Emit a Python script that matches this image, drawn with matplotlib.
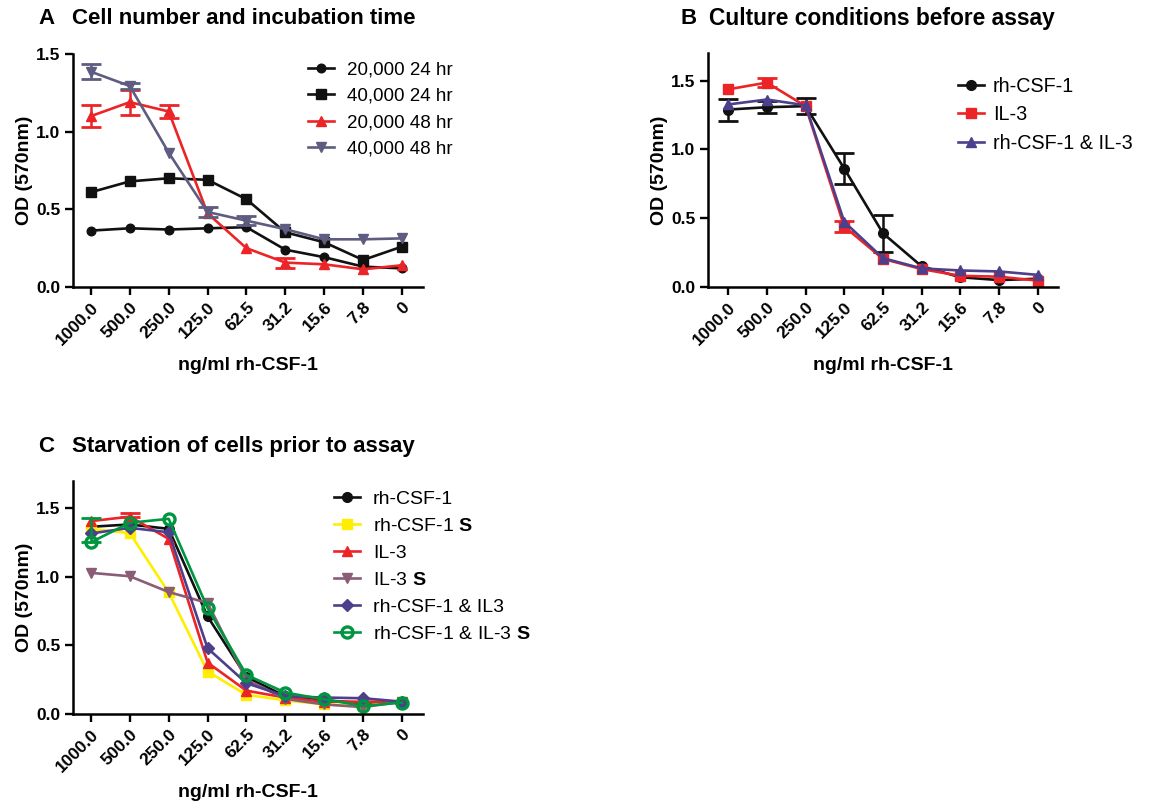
import numpy as np
import matplotlib
matplotlib.use("Agg")
import matplotlib.pyplot as plt

plt.rcParams['font.family'] = ['Liberation Sans', 'DejaVu Sans']
plt.rcParams['mathtext.fontset'] = 'custom'
plt.rcParams['mathtext.rm'] = 'Liberation Sans'
plt.rcParams['mathtext.bf'] = 'Liberation Sans:bold'

# ---------------- data ----------------
doses = ["1000.0", "500.0", "250.0", "125.0", "62.5", "31.2", "15.6", "7.8", "0"]

# Panel A
a_labels = ["20,000 24 hr", "40,000 24 hr", "20,000 48 hr", "40,000 48 hr"]
a_20k_24 = [0.363, 0.378, 0.370, 0.378, 0.385, 0.240, 0.192, 0.131, 0.120]
a_40k_24 = [0.610, 0.680, 0.700, 0.690, 0.565, 0.352, 0.288, 0.174, 0.260]
a_20k_48 = [1.100, 1.190, 1.130, 0.474, 0.250, 0.157, 0.146, 0.114, 0.140]
a_40k_48 = [1.386, 1.294, 0.865, 0.483, 0.427, 0.372, 0.307, 0.307, 0.313]
a_20k_48_err = [0.072, 0.080, 0.040, 0.0, 0.0, 0.032, 0.0, 0.0, 0.0]
a_40k_48_err = [0.050, 0.020, 0.0, 0.030, 0.030, 0.0, 0.0, 0.0, 0.0]

# Panel B
b_labels = ["rh-CSF-1", "IL-3", "rh-CSF-1 & IL-3"]
b_csf = [1.289, 1.306, 1.314, 0.860, 0.390, 0.150, 0.071, 0.050, 0.060]
b_il3 = [1.436, 1.485, 1.314, 0.439, 0.204, 0.130, 0.081, 0.075, 0.046]
b_both = [1.326, 1.362, 1.320, 0.473, 0.210, 0.135, 0.120, 0.113, 0.088]
b_csf_err = [0.080, 0.045, 0.058, 0.110, 0.135, 0.0, 0.0, 0.0, 0.0]
b_il3_err = [0.0, 0.030, 0.0, 0.040, 0.0, 0.0, 0.0, 0.0, 0.0]

# Panel C
c_labels = ["rh-CSF-1", "rh-CSF-1 $\\mathbf{S}$", "IL-3", "IL-3 $\\mathbf{S}$",
            "rh-CSF-1 & IL3", "rh-CSF-1 & IL-3 $\\mathbf{S}$"]
c_csf = [1.366, 1.383, 1.351, 0.712, 0.270, 0.130, 0.100, 0.080, 0.090]
c_csf_s = [1.350, 1.320, 0.887, 0.310, 0.140, 0.100, 0.070, 0.060, 0.090]
c_il3 = [1.407, 1.440, 1.278, 0.375, 0.170, 0.120, 0.090, 0.090, 0.090]
c_il3_s = [1.030, 1.005, 0.890, 0.810, 0.250, 0.110, 0.070, 0.050, 0.090]
c_both = [1.317, 1.358, 1.326, 0.480, 0.225, 0.130, 0.120, 0.115, 0.090]
c_both_s = [1.253, 1.395, 1.424, 0.773, 0.285, 0.156, 0.107, 0.059, 0.083]
c_both_s_err_up = [0.180, 0.0, 0.0, 0.0, 0.0, 0.0, 0.0, 0.0, 0.0]
c_il3_err_up = [0.0, 0.030, 0.0, 0.0, 0.0, 0.0, 0.0, 0.0, 0.0]

# ---------------- style ----------------
BLACK = "#111111"
RED = "#EC2427"
SLATE = "#5E5C80"
PURPLE = "#4E3F8C"
YELLOW = "#FFEE00"
MAUVE = "#8B5C76"
GREEN = "#00963F"

W, H = 1149, 805
fig = plt.figure(figsize=(W / 100, H / 100), dpi=100)


def add_axes(l, r, b, t):
    return fig.add_axes([l / W, 1 - b / H, (r - l) / W, (b - t) / H])


def style_axes(ax, ymax, xlim):
    x = np.arange(len(doses))
    ax.set_xlim(*xlim)
    ax.set_ylim(0, ymax)
    ax.set_xticks(x)
    ax.set_xticklabels(doses, rotation=45, ha='right', rotation_mode='anchor',
                       fontsize=12.5, fontweight='bold')
    ax.set_yticks([0, 0.5, 1.0, 1.5])
    ax.set_yticklabels(["0.0", "0.5", "1.0", "1.5"], fontsize=12.5, fontweight='bold')
    for s in ['top', 'right']:
        ax.spines[s].set_visible(False)
    for s in ['left', 'bottom']:
        ax.spines[s].set_linewidth(1.8)
    ax.tick_params(width=1.7, length=6, pad=3)
    ax.set_xlabel("ng/ml rh-CSF-1", fontsize=14, fontweight='bold', labelpad=7)
    ax.set_ylabel("OD (570nm)", fontsize=14, fontweight='bold', labelpad=2)


def series(ax, y, color, marker, label, ms=6, err=None, err_up=None, mfc=None, mew=1.0):
    x = np.arange(len(y))
    ax.plot(x, y, color=color, lw=1.9, marker=marker, ms=ms, label=label,
            mfc=mfc if mfc is not None else color, mec=color, mew=mew)
    if err is not None:
        e = np.array(err)
        m = e > 0
        ax.errorbar(x[m], np.array(y)[m], yerr=e[m], fmt='none', ecolor=color,
                    elinewidth=1.8, capsize=7.5, capthick=2.0)
    if err_up is not None:
        e = np.array(err_up)
        m = e > 0
        ax.errorbar(x[m], np.array(y)[m], yerr=[np.zeros(m.sum()), e[m]], fmt='none',
                    ecolor=color, elinewidth=1.8, capsize=7.5, capthick=2.0)


def legend(ax, bx, by, fs=13.5, pad=0.7):
    ax.legend(loc='upper left', bbox_to_anchor=(bx, by), frameon=False,
              fontsize=fs, handlelength=1.4 * 13.5 / fs, handletextpad=pad,
              labelspacing=0.5 * 13.5 / fs, borderpad=0, borderaxespad=0)


# Panel A
axA = add_axes(73, 423, 287, 54)
series(axA, a_20k_24, BLACK, 'o', a_labels[0], ms=6.2)
series(axA, a_40k_24, BLACK, 's', a_labels[1], ms=6.5)
series(axA, a_20k_48, RED, '^', a_labels[2], ms=7, err=a_20k_48_err)
series(axA, a_40k_48, SLATE, 'v', a_labels[3], ms=7, err=a_40k_48_err)
style_axes(axA, 1.5, (-0.46, 8.54))
legend(axA, (308 - 73) / 350, (287 - 61) / 233)

# Panel B
axB = add_axes(708, 1058, 287, 53)
series(axB, b_csf, BLACK, 'o', b_labels[0], ms=7, err=b_csf_err)
series(axB, b_il3, RED, 's', b_labels[1], ms=6.5, err=b_il3_err)
series(axB, b_both, PURPLE, '^', b_labels[2], ms=7)
style_axes(axB, 1.7, (-0.52, 8.52))
legend(axB, (958 - 708) / 350, (287 - 77) / 234, fs=14.2, pad=0.45)

# Panel C
axC = add_axes(73, 423, 714, 481)
series(axC, c_csf, BLACK, 'o', c_labels[0], ms=7)
series(axC, c_csf_s, YELLOW, 's', c_labels[1], ms=7)
series(axC, c_il3, RED, '^', c_labels[2], ms=7, err_up=c_il3_err_up)
series(axC, c_il3_s, MAUVE, 'v', c_labels[3], ms=7)
series(axC, c_both, PURPLE, 'D', c_labels[4], ms=6)
series(axC, c_both_s, GREEN, 'o', c_labels[5], ms=8, mfc='none', mew=2.4,
       err_up=c_both_s_err_up)
style_axes(axC, 1.7, (-0.46, 8.54))
legend(axC, (334 - 73) / 350, (714 - 490) / 233, fs=14.0, pad=0.65)

# Titles
fig.text(38 / W, 1 - 18 / H, "A", fontsize=16, fontweight='bold', va='center', ha='left')
fig.text(72 / W, 1 - 18 / H, "Cell number and incubation time", fontsize=16,
         fontweight='bold', va='center', ha='left')
fig.text(681 / W, 1 - 18 / H, "B", fontsize=16, fontweight='bold', va='center', ha='left')
fig.text(709 / W, 1 - 18 / H, "Culture conditions before assay", fontsize=16.4,
         fontweight='bold', va='center', ha='left')
fig.text(38 / W, 1 - 446 / H, "C", fontsize=16, fontweight='bold', va='center', ha='left')
fig.text(72 / W, 1 - 446 / H, "Starvation of cells prior to assay", fontsize=16,
         fontweight='bold', va='center', ha='left')

fig.savefig("out.png", dpi=100)
